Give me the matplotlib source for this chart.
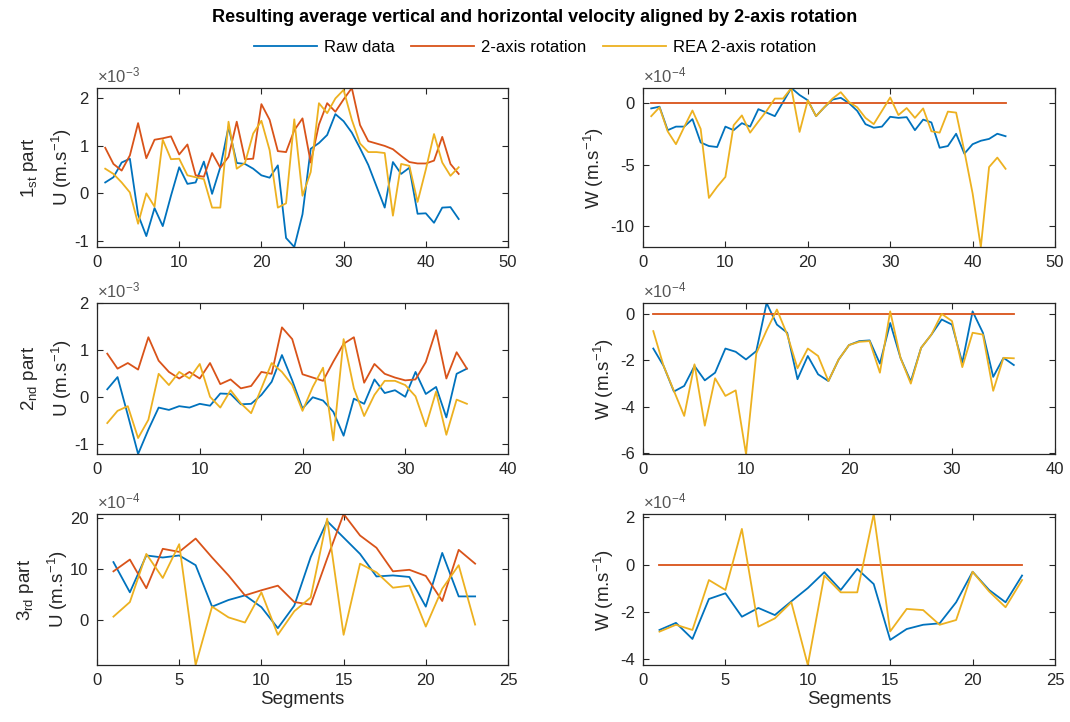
import numpy as np
import matplotlib
matplotlib.use("Agg")
import matplotlib.pyplot as plt
from matplotlib.ticker import FuncFormatter

plt.rcParams['font.family'] = ['Liberation Sans', 'DejaVu Sans']
plt.rcParams['mathtext.fontset'] = 'custom'
plt.rcParams['mathtext.rm'] = 'Liberation Sans'
plt.rcParams['mathtext.it'] = 'Liberation Sans:italic'
plt.rcParams['axes.unicode_minus'] = False

title = 'Resulting average vertical and horizontal velocity aligned by 2-axis rotation'
series_names = ['Raw data', '2-axis rotation', 'REA 2-axis rotation']
colors = ['#0072BD', '#D95319', '#EDB120']
part_names = ['1$_{\\mathrm{st}}$ part', '2$_{\\mathrm{nd}}$ part', '3$_{\\mathrm{rd}}$ part']

# 1st part (U in 1e-3 m/s, W in 1e-4 m/s)
u1_raw = [0.23, 0.34, 0.65, 0.73, -0.45, -0.9, -0.31, -0.69, -0.05, 0.55,
          0.2, 0.23, 0.67, -0.01, 0.55, 1.4, 0.64, 0.62, 0.52, 0.38,
          0.33, 0.59, -0.94, -1.13, -0.44, 0.94, 1.06, 1.23, 1.67, 1.52,
          1.28, 0.95, 0.6, 0.15, -0.3, 0.66, 0.41, 0.54, -0.43, -0.42,
          -0.62, -0.3, -0.29, -0.54]
u1_rot = [0.96, 0.62, 0.48, 0.8, 1.48, 0.74, 1.13, 1.16, 1.2, 0.82,
          1.03, 0.38, 0.35, 0.85, 0.54, 0.77, 1.51, 0.72, 0.73, 1.88,
          1.55, 0.89, 0.87, 1.33, 1.58, 0.65, 1.45, 1.9, 1.72, 1.98,
          2.22, 1.44, 1.1, 1.05, 1.0, 0.93, 0.79, 0.66, 0.63, 0.63,
          0.69, 1.19, 0.62, 0.41]
u1_rea = [0.52, 0.41, 0.23, 0.02, -0.64, 0.0, -0.28, 1.13, 0.72, 0.73,
          0.38, 0.34, 0.3, -0.3, -0.3, 1.51, 0.52, 0.64, 1.26, 1.53,
          0.91, -0.3, -0.21, 1.56, -0.05, 0.45, 1.9, 1.69, 2.0, 2.18,
          1.55, 1.05, 0.87, 0.87, 0.85, -0.47, 0.62, 0.58, -0.18, 0.5,
          1.25, 0.65, 0.37, 0.55]
w1_raw = [-0.43, -0.29, -2.2, -1.91, -1.91, -1.3, -3.2, -3.49, -3.57, -1.91,
          -2.2, -1.63, -1.91, -0.49, -0.77, -1.06, 0.09, 1.23, 0.66, 0.23,
          -1.06, -0.34, 0.29, 0.43, 0.0, -0.63, -1.71, -2.0, -1.91, -1.11,
          -1.2, -1.14, -2.2, -1.34, -1.57, -3.63, -3.49, -2.49, -4.11, -3.34,
          -3.06, -2.91, -2.49, -2.69]
w1_rot = [0.0] * 44
w1_rea = [-1.06, -0.34, -2.3, -3.34, -1.94, -0.6, -2.1, -7.71, -6.8, -6.0,
          -1.8, -1.0, -2.4, -1.5, -0.63, 0.37, 0.37, 1.23, -2.34, 0.23,
          -1.06, -0.34, 0.37, 0.89, 0.09, -0.34, -1.2, -1.71, -0.63, 0.46,
          -0.97, -0.4, -1.2, -0.43, -2.29, -2.4, -0.69, -0.77, -3.91, -7.34,
          -11.7, -5.2, -4.43, -5.34]

# 2nd part (U in 1e-3 m/s, W in 1e-4 m/s)
u2_raw = [0.16, 0.42, -0.39, -1.22, -0.7, -0.23, -0.28, -0.2, -0.23, -0.15,
          -0.19, 0.07, 0.06, -0.16, -0.15, 0.04, 0.32, 0.89, 0.35, -0.25,
          -0.01, -0.08, -0.32, -0.83, -0.04, -0.15, 0.37, 0.08, 0.14, 0.0,
          0.53, 0.06, 0.21, -0.44, 0.49, 0.6]
u2_rot = [0.92, 0.6, 0.72, 0.58, 1.27, 0.77, 0.53, 0.39, 0.53, 0.39,
          0.72, 0.27, 0.37, 0.18, 0.23, 0.53, 0.49, 1.48, 1.23, 0.48,
          0.41, 0.34, 0.75, 1.13, 1.27, 0.3, 0.7, 0.49, 0.41, 0.35,
          0.37, 0.74, 1.42, 0.39, 0.95, 0.6]
u2_rea = [-0.56, -0.3, -0.2, -0.88, -0.49, 0.49, 0.25, 0.53, 0.39, 0.7,
          0.0, -0.23, 0.14, -0.14, -0.35, 0.18, 0.72, 0.53, 0.25, -0.3,
          0.21, 0.62, -0.93, 1.23, 0.18, -0.41, 0.04, 0.34, 0.34, 0.25,
          0.01, -0.63, 0.11, -0.81, -0.06, -0.15]
w2_raw = [-1.49, -2.24, -3.34, -3.1, -2.24, -2.86, -2.53, -1.49, -1.63, -1.96,
          -1.6, 0.47, -0.46, -0.81, -2.81, -1.81, -2.6, -2.89, -1.96, -1.34,
          -1.17, -1.14, -2.14, -0.39, -1.89, -2.91, -1.46, -0.89, -0.24, -0.46,
          -2.1, 0.11, -0.81, -2.71, -1.89, -2.2]
w2_rot = [0.0] * 36
w2_rea = [-0.74, -2.24, -3.31, -4.39, -2.17, -4.81, -2.77, -3.53, -3.29, -6.03,
          -1.7, -0.71, 0.19, -0.89, -2.34, -1.49, -1.81, -2.89, -1.96, -1.34,
          -1.2, -1.17, -2.53, 0.11, -1.89, -3.0, -1.46, -0.89, 0.0, -0.31,
          -2.29, -0.81, -0.89, -3.31, -1.89, -1.91]

# 3rd part (U and W in 1e-4 m/s)
u3_raw = [11.3, 5.4, 12.6, 12.2, 12.6, 10.7, 2.6, 3.9, 4.8, 2.5,
          -1.6, 2.8, 12.3, 19.3, 16.1, 12.9, 8.5, 8.7, 8.4, 2.6,
          13.1, 4.6, 4.6]
u3_rot = [9.5, 11.8, 6.2, 13.9, 13.3, 15.9, 12.2, 8.7, 4.8, 5.8,
          6.7, 3.5, 3.0, 12.0, 20.7, 16.5, 14.1, 9.5, 9.8, 8.6,
          3.7, 13.7, 11.0]
u3_rea = [0.65, 3.5, 12.9, 8.2, 14.8, -8.8, 2.6, 0.5, -0.5, 5.4,
          -2.9, 1.7, 4.4, 19.8, -2.9, 11.0, 9.3, 6.3, 6.7, -1.3,
          6.1, 10.7, -0.9]
w3_raw = [-2.76, -2.46, -3.14, -1.45, -1.21, -2.2, -1.83, -2.13, -1.55, -0.99,
          -0.32, -1.07, -0.18, -0.82, -3.18, -2.72, -2.54, -2.48, -1.59, -0.3,
          -1.07, -1.59, -0.46]
w3_rot = [0.0] * 23
w3_rea = [-2.83, -2.54, -2.76, -0.65, -1.07, 1.51, -2.62, -2.27, -1.59, -4.24,
          -0.46, -1.17, -1.17, 2.14, -2.82, -1.87, -1.92, -2.54, -2.34, -0.3,
          -1.13, -1.8, -0.65]

# exponents of the y axes and tick values (in displayed units)
u_exp = [-3, -3, -4]
w_exp = [-4, -4, -4]
u_yticks = [[-1, 0, 1, 2], [-1, 0, 1, 2], [0, 10, 20]]
w_yticks = [[-10, -5, 0], [-6, -4, -2, 0], [-4, -2, 0, 2]]
xmax = [50, 40, 25]
xstep = [10, 10, 5]

u_data = [(u1_raw, u1_rot, u1_rea), (u2_raw, u2_rot, u2_rea), (u3_raw, u3_rot, u3_rea)]
w_data = [(w1_raw, w1_rot, w1_rea), (w2_raw, w2_rot, w2_rea), (w3_raw, w3_rot, w3_rea)]

fig = plt.figure(figsize=(10.7, 7.22), dpi=100)

W, H = 1070.0, 722.0
col_x = [97, 643]
col_w = [411, 412]
row_tb = [(88, 247), (303, 454), (514, 665)]

axc = '#262626'


def make_fmt(scale):
    return FuncFormatter(lambda v, p: '%g' % round(v / scale, 6))


handles = None
for r in range(3):
    top, bot = row_tb[r]
    for c in range(2):
        ax = fig.add_axes([col_x[c] / W, 1 - bot / H, col_w[c] / W, (bot - top) / H])
        series = u_data[r] if c == 0 else w_data[r]
        ex = u_exp[r] if c == 0 else w_exp[r]
        scale = 10.0 ** ex
        segs = np.arange(1, len(series[0]) + 1)
        lines = []
        allv = []
        for vals, col, name in zip(series, colors, series_names):
            v = np.array(vals) * scale
            allv.extend(v)
            ln, = ax.plot(segs, v, color=col, lw=1.3, label=name)
            lines.append(ln)
        if handles is None:
            handles = lines
        ax.set_xlim(0, xmax[r])
        ax.set_xticks(np.arange(0, xmax[r] + 1, xstep[r]))
        ax.set_ylim(min(allv), max(allv))
        yt = u_yticks[r] if c == 0 else w_yticks[r]
        ax.set_yticks(np.array(yt) * scale)
        ax.yaxis.set_major_formatter(make_fmt(scale))
        ax.text(0.0, 1.015, '$\\times10^{%d}$' % ex, transform=ax.transAxes,
                ha='left', va='bottom', fontsize=12, color='#555555')
        ax.tick_params(direction='in', top=True, right=True, length=4,
                       width=0.8, colors=axc, labelsize=12, pad=6)
        for s in ax.spines.values():
            s.set_color(axc)
            s.set_linewidth(0.9)
        if c == 0:
            ax.set_ylabel(part_names[r] + '\n' + 'U (m.s$^{-1}$)', fontsize=13.5,
                          color=axc, labelpad=0, linespacing=1.55)
        else:
            ax.set_ylabel('W (m.s$^{-1}$)', fontsize=13.5, color=axc, labelpad=3)
        if r == 2:
            ax.set_xlabel('Segments', fontsize=13.5, color=axc, labelpad=2)

fig.text(0.5, 1 - 18 / H, title, ha='center', va='center', fontsize=13,
         fontweight='bold', color='black')
fig.legend(handles, series_names, loc='center', bbox_to_anchor=(0.5, 1 - 47 / H),
           ncol=3, frameon=False, fontsize=12, handlelength=3.8,
           columnspacing=1.0, handletextpad=0.4)

fig.savefig('out.png', dpi=100, facecolor='white')
